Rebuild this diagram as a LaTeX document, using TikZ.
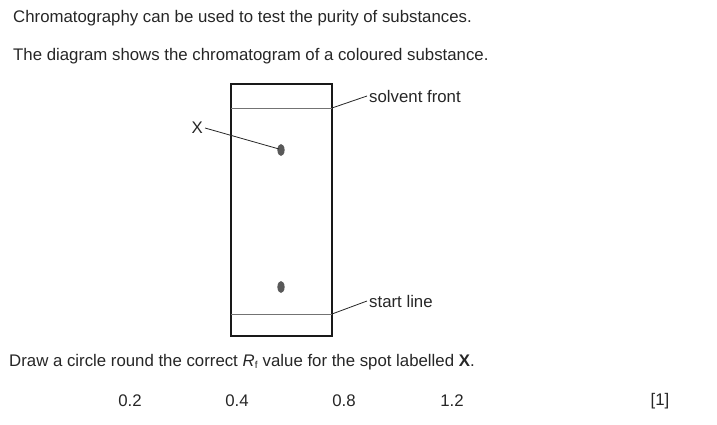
\documentclass[tikz,border=0pt]{standalone}
\usepackage{fontspec}
\setmainfont{Liberation Sans}
\begin{document}
\begin{tikzpicture}[x=1pt,y=-1pt,
  txt/.style={inner sep=0pt,font=\fontsize{16.8}{20}\selectfont,text=black!85},
  lead/.style={draw=black!85,line width=0.8pt},
  spot/.style={fill=black!65,draw=none}]
\useasboundingbox (0,0) rectangle (717,425);
\node[txt,anchor=west] (t1) at (13,18) {Chromatography can be used to test the purity of substances.};
\node[txt,anchor=west] (t2) at (13,56) {The diagram shows the chromatogram of a coloured substance.};
% paper
\draw[line width=1.4pt,black!90] (231,84) rectangle (332,336);
\coordinate (fl) at (231,108); \coordinate (fr) at (332,108);
\coordinate (sl) at (231,314); \coordinate (sr) at (332,314);
\draw[black!55,line width=0.9pt] (fl) -- (fr);
\draw[black!55,line width=0.9pt] (sl) -- (sr);
\fill[spot] (281,150) ellipse (3.6 and 6);
\fill[spot] (281,287) ellipse (3.6 and 6);
\coordinate (xs) at (279,149);
\node[txt,anchor=east] (X) at (203,128) {X};
\draw[lead] ([xshift=2pt]X.east) -- (xs);
\node[txt,anchor=west] (sf) at (369,96) {solvent front};
\draw[lead] (fr) -- ([xshift=-2pt]sf.west);
\node[txt,anchor=west] (st) at (369,301) {start line};
\draw[lead] (sr) -- ([xshift=-2pt]st.west);
\node[txt,anchor=west] (q) at (9,362) {Draw a circle round the correct \textit{R}\textsubscript{\fontsize{10}{11}\selectfont f} value for the spot labelled \textbf{X}.};
\node[txt] (a) at (130,401) {0.2};
\node[txt] (b) at (237,401) {0.4};
\node[txt] (c) at (344,401) {0.8};
\node[txt] (d) at (452,401) {1.2};
\node[txt] (m) at (660,401) {[1]};
\end{tikzpicture}
\end{document}
